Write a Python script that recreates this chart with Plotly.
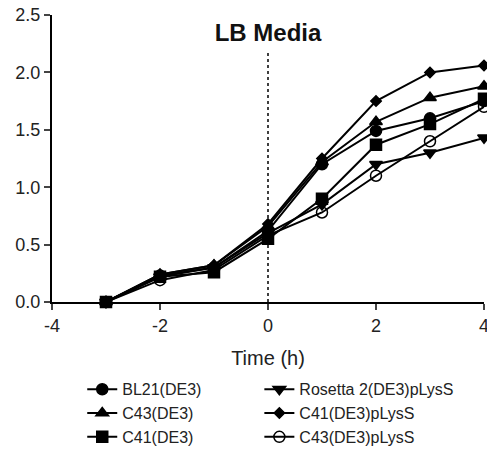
import plotly.graph_objects as go

time_h = [-3, -2, -1, 0, 1, 2, 3, 4]

series_names = ["BL21(DE3)", "C43(DE3)", "C41(DE3)",
                "Rosetta 2(DE3)pLysS", "C41(DE3)pLysS", "C43(DE3)pLysS"]

bl21 = [0.0, 0.23, 0.30, 0.62, 1.20, 1.49, 1.60, 1.75]
c43 = [0.0, 0.24, 0.32, 0.66, 1.22, 1.57, 1.78, 1.88]
c41 = [0.0, 0.22, 0.26, 0.55, 0.90, 1.37, 1.55, 1.77]
rosetta = [0.0, 0.22, 0.30, 0.60, 0.85, 1.20, 1.30, 1.43]
c41plyss = [0.0, 0.24, 0.32, 0.68, 1.25, 1.75, 2.00, 2.06]
c43plyss = [0.0, 0.19, 0.28, 0.58, 0.78, 1.10, 1.40, 1.70]

series_values = [bl21, c43, c41, rosetta, c41plyss, c43plyss]
symbols = ["circle", "triangle-up", "square", "triangle-down", "diamond", "circle-open"]
sizes = [11, 11, 11, 11, 8, 11]
legend_ids = ["legend", "legend", "legend", "legend2", "legend2", "legend2"]

x_ticks = [-4, -2, 0, 2, 4]
x_tick_labels = ["-4", "-2", "0", "2", "4"]
y_ticks = [0.0, 0.5, 1.0, 1.5, 2.0, 2.5]
y_tick_labels = ["0.0", "0.5", "1.0", "1.5", "2.0", "2.5"]
dotted_line_top = 2.18

fig = go.Figure()
for name, vals, sym, sz, lg in zip(series_names, series_values, symbols, sizes, legend_ids):
    fig.add_trace(go.Scatter(
        x=time_h, y=vals, name=name, mode="lines+markers",
        line=dict(color="black", width=2),
        marker=dict(symbol=sym, size=sz, color="black",
                    line=dict(color="black", width=1.5)),
        cliponaxis=False, legend=lg,
    ))

fig.add_shape(type="line", x0=0, x1=0, y0=0, y1=dotted_line_top,
              xref="x", yref="y", line=dict(color="black", width=1.5, dash="dot"))

legend_style = dict(orientation="v", yanchor="top", xanchor="left",
                    font=dict(size=16, color="#222"), tracegroupgap=0,
                    itemwidth=30, bgcolor="rgba(0,0,0,0)")

fig.update_layout(
    width=487, height=470,
    margin=dict(l=52, r=3, t=15, b=168, autoexpand=False),
    paper_bgcolor="white", plot_bgcolor="white",
    font=dict(family="Liberation Sans, Arial, sans-serif", color="#222", size=16),
    title=dict(text="<b>LB Media</b>", x=268/487, xanchor="center",
               y=1 - 33/470, yanchor="middle",
               font=dict(size=24, color="#111")),
    showlegend=True,
    legend=dict(x=0.07, y=-0.245, **legend_style),
    legend2=dict(x=0.48, y=-0.245, **legend_style),
    xaxis=dict(range=[-4, 4], tickvals=x_ticks, ticktext=x_tick_labels,
               ticks="outside", ticklen=6, tickwidth=2, showline=True,
               linewidth=2, linecolor="black", ticklabeloverflow="allow",
               showgrid=False, zeroline=False, automargin=False,
               tickfont=dict(size=18)),
    yaxis=dict(range=[0, 2.5], tickvals=y_ticks, ticktext=y_tick_labels,
               ticks="outside", ticklabeloverflow="allow",
               ticklen=6, tickwidth=2, showline=True, linewidth=2, linecolor="black",
               showgrid=False, zeroline=False, automargin=False,
               tickfont=dict(size=18)),
)
fig.update_xaxes(title_text="Time (h)", title_font_size=20, title_standoff=16)

fig.write_html("out.html", config={"displayModeBar": False},
               post_script="document.body.style.margin='0';")
